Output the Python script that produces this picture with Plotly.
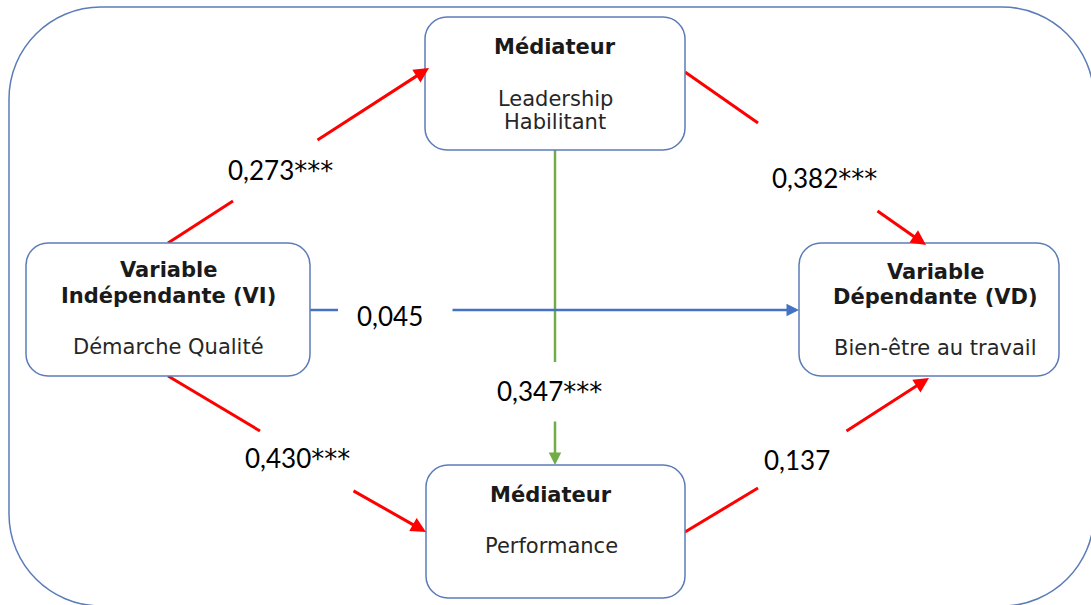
import plotly.graph_objects as go

W, H = 1091, 605

# ---- diagram content ----
node_titles = ["Médiateur", "Variable<br>Indépendante (VI)", "Variable<br>Dépendante (VD)", "Médiateur"]
node_subtitles = ["Leadership<br>Habilitant", "Démarche Qualité", "Bien-être au travail", "Performance"]
coefficients = ["0,273***", "0,382***", "0,430***", "0,137", "0,045", "0,347***"]

# ---- layout geometry (pixels) ----
boxes = [(425, 17, 685, 150), (26, 243, 310, 376), (799, 243, 1059, 376), (426, 465, 685, 598)]
title_lines_y = [[47], [270, 296], [272, 297], [495]]
sub_lines_y = [[99, 122], [347], [348], [546]]
text_x = [555, 168, 935, 551]

# edges: tail, gap start, gap end, tip, colour, width
edges = [
    ((168, 243), (233, 201), (316, 141), (429, 68), "#ff0000", 3),
    ((685, 72), (758, 123), (876, 210), (926, 245), "#ff0000", 3),
    ((168, 376), (260, 431), (352, 490), (426, 532), "#ff0000", 3),
    ((685, 532), (758, 488), (845, 432), (929, 378), "#ff0000", 3),
    ((310, 310), (338, 310), (451, 310), (799, 310), "#4472c4", 2.5),
    ((555, 150), (555, 362), (555, 420), (555, 465), "#70ad47", 2.5),
]
label_pos = [(280, 170), (824, 178), (297, 458), (797, 460), (390, 316), (549, 391)]

BORDER = "#5b7cb8"


def rrect(x0, y0, x1, y1, r):
    k = 0.5523 * r
    return (f"M {x0+r},{y0} L {x1-r},{y0} "
            f"C {x1-r+k},{y0} {x1},{y0+r-k} {x1},{y0+r} "
            f"L {x1},{y1-r} "
            f"C {x1},{y1-r+k} {x1-r+k},{y1} {x1-r},{y1} "
            f"L {x0+r},{y1} "
            f"C {x0+r-k},{y1} {x0},{y1-r+k} {x0},{y1-r} "
            f"L {x0},{y0+r} "
            f"C {x0},{y0+r-k} {x0+r-k},{y0} {x0+r},{y0} Z")


def fmt_coef(s):
    n = s.count("*")
    if n == 0:
        return s
    return s.rstrip("*") + "<span style='font-family:DejaVu Sans'>" + "*" * n + "</span>"


fig = go.Figure()
shapes = []
annotations = []

# outer frame
shapes.append(dict(type="path", path=rrect(9, 7, 1094, 606, 92), xref="x", yref="y",
                   line=dict(color=BORDER, width=1.5), fillcolor="rgba(0,0,0,0)", layer="below"))

# edges
for i, (tail, g0, g1, tip, col, w) in enumerate(edges):
    shapes.append(dict(type="line", x0=tail[0], y0=tail[1], x1=g0[0], y1=g0[1], xref="x", yref="y",
                       line=dict(color=col, width=w), layer="above"))
    annotations.append(dict(x=tip[0], y=tip[1], ax=g1[0], ay=g1[1], xref="x", yref="y",
                            axref="x", ayref="y", text="", showarrow=True, arrowhead=2,
                            arrowsize=1.0, arrowwidth=w, arrowcolor=col, standoff=0))
    lx, ly = label_pos[i]
    annotations.append(dict(x=lx, y=ly, xref="x", yref="y", text=fmt_coef(coefficients[i]),
                            showarrow=False,
                            font=dict(family="Lato", size=26, color="#000000"),
                            xanchor="center", yanchor="middle"))

# boxes
for i, (x0, y0, x1, y1) in enumerate(boxes):
    shapes.append(dict(type="path", path=rrect(x0, y0, x1, y1, 22), xref="x", yref="y",
                       line=dict(color=BORDER, width=1.5), fillcolor="white", layer="above"))
    for line, yy in zip(node_titles[i].split("<br>"), title_lines_y[i]):
        annotations.append(dict(x=text_x[i], y=yy, xref="x", yref="y", text=f"<b>{line}</b>",
                                showarrow=False, xanchor="center", yanchor="middle",
                                font=dict(family="DejaVu Sans", size=21, color="#1a1a1a")))
    for line, yy in zip(node_subtitles[i].split("<br>"), sub_lines_y[i]):
        annotations.append(dict(x=text_x[i], y=yy, xref="x", yref="y", text=line,
                                showarrow=False, xanchor="center", yanchor="middle",
                                font=dict(family="DejaVu Sans", size=21, color="#262626")))

fig.update_layout(
    width=W, height=H,
    margin=dict(l=0, r=0, t=0, b=0),
    paper_bgcolor="white", plot_bgcolor="white",
    xaxis=dict(range=[0, W], visible=False, fixedrange=True),
    yaxis=dict(range=[H, 0], visible=False, fixedrange=True),
    shapes=shapes, annotations=annotations, showlegend=False,
)

fig.write_html("out.html", config={"displayModeBar": False},
               post_script="document.body.style.margin='0';document.body.style.overflow='hidden';")
